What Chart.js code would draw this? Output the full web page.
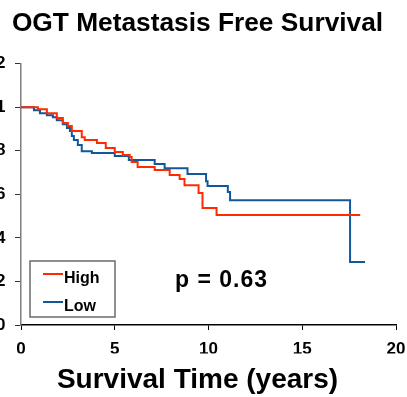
<!DOCTYPE html>
<html>
<head>
<meta charset="utf-8">
<script src="https://cdn.jsdelivr.net/npm/chart.js@4/dist/chart.umd.min.js"></script>
<style>
  html, body { margin: 0; padding: 0; background: #fff; overflow: hidden; }
  #wrap { position: relative; width: 407px; height: 397px; overflow: hidden; }
  #survivalChart { position: absolute; left: -12px; top: 0; }
</style>
</head>
<body>
<div id="wrap"><canvas id="survivalChart" width="419" height="397"></canvas></div>
<script>
// Kaplan-Meier steps (time in years, survival fraction)
const highTimes = [0, 0.90, 1.38, 1.91, 2.23, 2.50, 2.71, 3.24, 3.40, 4.05, 4.52, 5.00, 5.43, 5.80, 5.90, 6.22, 7.13, 7.93, 8.46, 8.72, 9.47, 9.68, 10.43, 18.09];
const highSurv  = [1, 0.99, 0.972, 0.950, 0.927, 0.913, 0.890, 0.862, 0.849, 0.835, 0.812, 0.794, 0.780, 0.771, 0.748, 0.725, 0.711, 0.688, 0.670, 0.642, 0.606, 0.537, 0.505, 0.505];

const lowTimes = [0, 0.69, 1.01, 1.38, 1.70, 1.91, 2.23, 2.45, 2.61, 2.71, 2.82, 3.03, 3.24, 3.78, 5.00, 5.75, 7.13, 7.66, 8.88, 9.87, 9.95, 11.03, 11.15, 17.55, 18.35];
const lowSurv  = [1, 0.986, 0.972, 0.963, 0.954, 0.940, 0.922, 0.904, 0.890, 0.867, 0.849, 0.826, 0.798, 0.789, 0.776, 0.757, 0.739, 0.720, 0.693, 0.66, 0.638, 0.61, 0.573, 0.289, 0.289];

const seriesLabels = ['High', 'Low'];
const seriesColors = ['#ff2a00', '#10589b'];
const xTickLabels = ['0', '5', '10', '15', '20'];
const yTickLabels = ['0', '0.2', '0.4', '0.6', '0.8', '1', '1.2'];
const pValueText = 'p = 0.63';

const FONT = "'Liberation Sans', Arial, sans-serif";

function toPoints(times, surv) {
    return times.map((t, i) => ({ x: t, y: surv[i] }));
}

// Legend box + p value drawn inside the plot area
const insideLabels = {
    id: 'insideLabels',
    afterDraw(chart) {
        const ctx = chart.ctx;
        const left = chart.chartArea.left;
        ctx.save();
        // legend frame
        ctx.strokeStyle = '#6b6b6b';
        ctx.lineWidth = 1.5;
        ctx.strokeRect(left + 9, 261, 85, 56);
        ctx.font = 'bold 16px ' + FONT;
        ctx.textAlign = 'left';
        ctx.textBaseline = 'alphabetic';
        chart.data.datasets.forEach((ds, i) => {
            const y = 274 + i * 28;
            ctx.strokeStyle = ds.borderColor;
            ctx.lineWidth = 2;
            ctx.beginPath();
            ctx.moveTo(left + 22, y);
            ctx.lineTo(left + 42, y);
            ctx.stroke();
            ctx.fillStyle = '#000';
            ctx.fillText(ds.label, left + 43, y + 8.5);
        });
        // p value
        ctx.font = 'bold 23px ' + FONT;
        ctx.letterSpacing = '1px';
        ctx.fillText(pValueText, left + 154, 287);
        ctx.restore();
    }
};

const ctx = document.getElementById('survivalChart').getContext('2d');
new Chart(ctx, {
    type: 'line',
    data: {
        datasets: [
            {
                label: seriesLabels[0],
                data: toPoints(highTimes, highSurv),
                borderColor: seriesColors[0],
                borderWidth: 2,
                stepped: 'before',
                pointRadius: 0,
                fill: false
            },
            {
                label: seriesLabels[1],
                data: toPoints(lowTimes, lowSurv),
                borderColor: seriesColors[1],
                borderWidth: 2,
                stepped: 'before',
                pointRadius: 0,
                fill: false
            }
        ]
    },
    options: {
        responsive: false,
        devicePixelRatio: 1,
        animation: false,
        layout: { padding: 0 },
        plugins: {
            legend: { display: false },
            tooltip: { enabled: false },
            title: {
                display: true,
                text: 'OGT Metastasis Free Survival',
                color: '#000',
                font: { family: FONT, size: 26.3, weight: 'bold' },
                padding: { top: 8, bottom: 24 }
            },
            subtitle: {
                display: true,
                position: 'bottom',
                text: 'Survival Time (years)',
                color: '#000',
                font: { family: FONT, size: 28, weight: 'bold' },
                padding: { top: 10, bottom: 0 }
            }
        },
        scales: {
            x: {
                type: 'linear',
                min: 0,
                max: 20,
                afterFit: (scale) => { scale.height = 28.4; scale.paddingRight = 11; },
                ticks: {
                    stepSize: 5,
                    color: '#000',
                    padding: 9,
                    font: { family: FONT, size: 17, weight: 'bold' },
                    callback: (v) => xTickLabels[v / 5]
                },
                grid: { drawOnChartArea: false, drawTicks: true, tickLength: 5, color: '#000' },
                border: { color: '#000', width: 1.5 }
            },
            y: {
                min: 0,
                max: 1.2,
                afterFit: (scale) => { scale.width = 33; },
                ticks: {
                    stepSize: 0.2,
                    color: '#000',
                    padding: 9.5,
                    font: { family: FONT, size: 17, weight: 'bold' },
                    callback: (v) => yTickLabels[Math.round(v / 0.2)]
                },
                grid: { drawOnChartArea: false, drawTicks: true, tickLength: 6, color: '#333' },
                border: { color: '#808080', width: 1.5 }
            }
        }
    },
    plugins: [insideLabels]
});
</script>
</body>
</html>
